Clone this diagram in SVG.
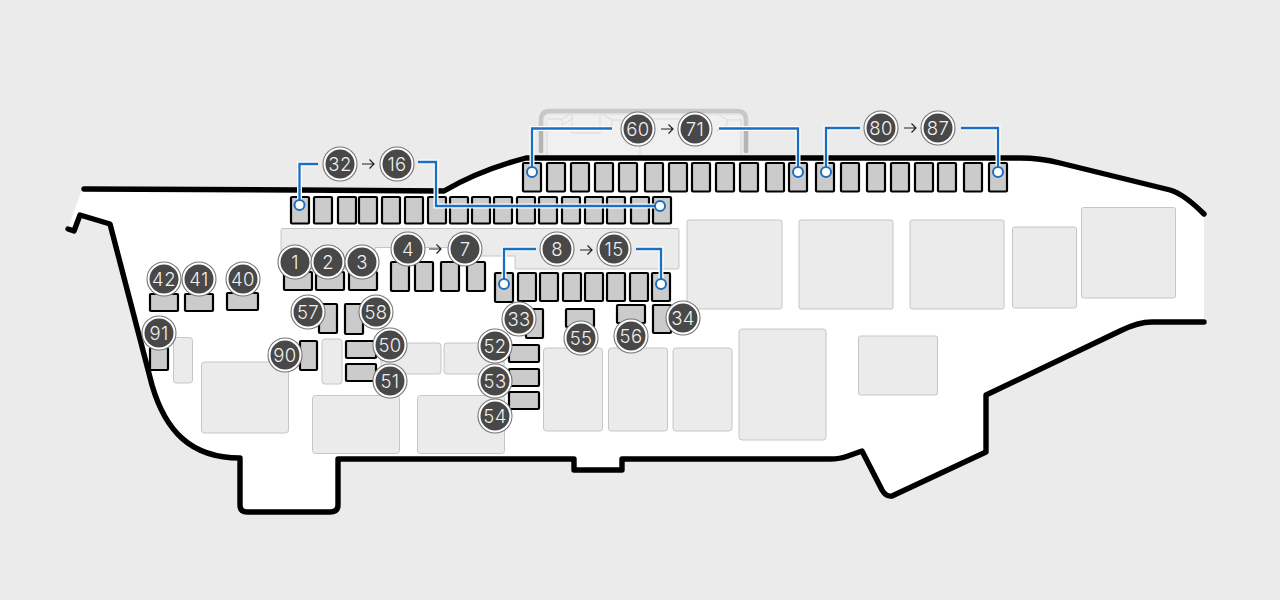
<svg xmlns="http://www.w3.org/2000/svg" width="1280" height="600" viewBox="0 0 1280 600">
<defs>
<style>
.bay{fill:#ebebeb;stroke:#c6c6c6;stroke-width:1}
.f{fill:#cbcbcb;stroke:#000;stroke-width:2.2}
.ln{fill:none;stroke:#1b6ec2;stroke-width:2.3}
.dot{fill:#fff;stroke:#1b6ec2;stroke-width:2}
.bd{fill:none;stroke:#000;stroke-width:5.4;stroke-linecap:round;stroke-linejoin:round}
.o{fill:#fff;stroke:#757575;stroke-width:1.1}
.i{fill:#484848}
.t{font-family:"Inter","Liberation Sans",sans-serif;font-weight:300;font-size:18.500px;letter-spacing:.4px;fill:#f2f2f2;text-anchor:middle;opacity:.99}
.ar{fill:none;stroke:#222;stroke-width:1.2}
.st{fill:none;stroke:#dadada;stroke-width:1}
</style>
<g id="b"><circle class="o" r="17"/><circle class="i" r="14.500"/></g>
</defs>
<rect width="1280" height="600" fill="#ebebeb"/>
<g id="hood">
<path d="M548 114H740V165H548Z" fill="#f0f0f0"/>
<path d="M541 130V120Q541 111 550 111H737Q746 111 746 120V130" fill="none" stroke="#c8c8c8" stroke-width="4.500"/>
<path d="M541 130V151M746 130V151" fill="none" stroke="#b4b4b4" stroke-width="4.500" stroke-linecap="round"/>
<path class="st" d="M548 114H740M548 119H562L572 113M562 119V125L572 119M572 113V133H600V113M600 113L612 120V125L600 131M612 120H622M547 125V165M640 145V165M650 119H690M717 113L727 120H741M727 120V125L717 131M741 120V165"/>
</g>
<path id="body" fill="#fff" d="M82 189L298 190L444 191Q480 170 524 158H1020Q1040 158 1060 163L1172 190Q1184 194 1204 214V322H1152Q1138 322 1120 331L986 395V452L892 496Q886 497 882 490L862 451L848 456Q840 459 830 459H622V470H574V459H338V505Q338 512 330 512H247Q240 512 240 505V458C190 458 165 430 152 385L110 224L80 215L74 231L68 229Z"/>
<g id="bays">
<path class="bay" d="M283 228.500H677Q679 228.500 679 230.500V267Q679 269 677 269H515V256H465V247.500H375V269H283Q281 269 281 267V230.500Q281 228.500 283 228.500Z"/>
<rect class="bay" x="687" y="220" width="95" height="89" rx="2"/>
<rect class="bay" x="799" y="220" width="94" height="89" rx="2"/>
<rect class="bay" x="910" y="220" width="94" height="89" rx="2"/>
<rect class="bay" x="1012.500" y="227" width="64" height="81" rx="2"/>
<rect class="bay" x="1081.500" y="207.500" width="94" height="90.500" rx="2"/>
<rect class="bay" x="858.500" y="336" width="79" height="59" rx="2"/>
<rect class="bay" x="739" y="329" width="87" height="111" rx="3"/>
<rect class="bay" x="673" y="348" width="59" height="83" rx="3"/>
<rect class="bay" x="608.500" y="348" width="59" height="83" rx="3"/>
<rect class="bay" x="543.500" y="348" width="59" height="83" rx="3"/>
<rect class="bay" x="417.500" y="395.500" width="87" height="58" rx="3"/>
<rect class="bay" x="312.500" y="395.500" width="87" height="58" rx="3"/>
<rect class="bay" x="201.500" y="362" width="87" height="71" rx="3"/>
<rect class="bay" x="173.500" y="337.500" width="19" height="45.500" rx="3"/>
<rect class="bay" x="322" y="339" width="20" height="45" rx="3"/>
<rect class="bay" x="381" y="343" width="60" height="31" rx="3"/>
<rect class="bay" x="444" y="343" width="60" height="31" rx="3"/>
</g>
<path id="outline" class="bd" d="M84 189L298 190L444 191Q480 170 526 158H1020Q1040 158 1060 163L1170 190Q1184 194 1204 214M1204 322H1152Q1138 322 1120 331L986 395V452L892 496Q886 497 882 490L862 451L848 456Q840 459 830 459H622V470H574V459H338V505Q338 512 330 512H247Q240 512 240 505V458C190 458 165 430 152 385L110 224L80 215L74 231L68 229"/>
<g id="fuses">
<rect class="f" x="523" y="163" width="18" height="28.500" rx="1"/><rect class="f" x="547" y="163" width="18" height="28.500" rx="1"/><rect class="f" x="571" y="163" width="18" height="28.500" rx="1"/><rect class="f" x="595" y="163" width="18" height="28.500" rx="1"/><rect class="f" x="619" y="163" width="18" height="28.500" rx="1"/><rect class="f" x="645" y="163" width="18" height="28.500" rx="1"/><rect class="f" x="669" y="163" width="18" height="28.500" rx="1"/><rect class="f" x="692" y="163" width="18" height="28.500" rx="1"/><rect class="f" x="716" y="163" width="18" height="28.500" rx="1"/><rect class="f" x="740" y="163" width="18" height="28.500" rx="1"/><rect class="f" x="766" y="163" width="18" height="28.500" rx="1"/><rect class="f" x="789" y="163" width="18" height="28.500" rx="1"/>
<rect class="f" x="816" y="163" width="18" height="28.500" rx="1"/><rect class="f" x="841" y="163" width="18" height="28.500" rx="1"/><rect class="f" x="867" y="163" width="18" height="28.500" rx="1"/><rect class="f" x="891" y="163" width="18" height="28.500" rx="1"/><rect class="f" x="915" y="163" width="18" height="28.500" rx="1"/><rect class="f" x="938" y="163" width="18" height="28.500" rx="1"/><rect class="f" x="964" y="163" width="18" height="28.500" rx="1"/><rect class="f" x="989" y="163" width="18" height="28.500" rx="1"/>
<rect class="f" x="291" y="197" width="18" height="26.500" rx="1"/><rect class="f" x="314" y="197" width="18" height="26.500" rx="1"/><rect class="f" x="338" y="197" width="18" height="26.500" rx="1"/><rect class="f" x="359" y="197" width="18" height="26.500" rx="1"/><rect class="f" x="382" y="197" width="18" height="26.500" rx="1"/><rect class="f" x="405" y="197" width="18" height="26.500" rx="1"/><rect class="f" x="428" y="197" width="18" height="26.500" rx="1"/><rect class="f" x="450" y="197" width="18" height="26.500" rx="1"/><rect class="f" x="472" y="197" width="18" height="26.500" rx="1"/><rect class="f" x="494" y="197" width="18" height="26.500" rx="1"/><rect class="f" x="517" y="197" width="18" height="26.500" rx="1"/><rect class="f" x="539" y="197" width="18" height="26.500" rx="1"/><rect class="f" x="562" y="197" width="18" height="26.500" rx="1"/><rect class="f" x="585" y="197" width="18" height="26.500" rx="1"/><rect class="f" x="607" y="197" width="18" height="26.500" rx="1"/><rect class="f" x="631" y="197" width="18" height="26.500" rx="1"/><rect class="f" x="653" y="197" width="18" height="26.500" rx="1"/>
<rect class="f" x="391" y="262" width="18" height="29" rx="1"/><rect class="f" x="415" y="262" width="18" height="29" rx="1"/><rect class="f" x="441" y="262" width="18" height="29" rx="1"/><rect class="f" x="467" y="262" width="18" height="29" rx="1"/>
<rect class="f" x="495" y="273" width="18" height="29" rx="1"/><rect class="f" x="518" y="273" width="18" height="28" rx="1"/><rect class="f" x="540" y="273" width="18" height="28" rx="1"/><rect class="f" x="563" y="273" width="18" height="28" rx="1"/><rect class="f" x="585" y="273" width="18" height="28" rx="1"/><rect class="f" x="607" y="273" width="18" height="28" rx="1"/><rect class="f" x="630" y="273" width="18" height="28" rx="1"/><rect class="f" x="652" y="273" width="18" height="28" rx="1"/>
<rect class="f" x="284" y="272" width="28" height="18" rx="1"/><rect class="f" x="316" y="272" width="28" height="18" rx="1"/><rect class="f" x="349" y="272" width="28" height="18" rx="1"/>
<rect class="f" x="150" y="294" width="28" height="17" rx="1"/><rect class="f" x="185" y="294" width="28" height="17" rx="1"/><rect class="f" x="227" y="293" width="31" height="17" rx="1"/>
<rect class="f" x="319" y="304" width="18" height="29" rx="1"/><rect class="f" x="345" y="304" width="18" height="30" rx="1"/>
<rect class="f" x="300" y="341" width="17" height="29" rx="1"/><rect class="f" x="150" y="348" width="18" height="22" rx="1"/>
<rect class="f" x="346" y="341" width="30" height="17" rx="1"/><rect class="f" x="346" y="364" width="30" height="17" rx="1"/>
<rect class="f" x="526" y="309" width="17" height="29" rx="1"/><rect class="f" x="566" y="309" width="28" height="18" rx="1"/><rect class="f" x="617" y="305" width="28" height="18" rx="1"/><rect class="f" x="653" y="305" width="18" height="28" rx="1"/>
<rect class="f" x="509" y="345" width="30" height="17" rx="1"/><rect class="f" x="509" y="369" width="30" height="17" rx="1"/><rect class="f" x="509" y="392" width="30" height="17" rx="1"/>
</g>
<g id="connectors">
<path d="M299.500 205V164H318M418 162H436V206H660M532 172V128.500H612M719 128.500H798V172M826 172V128H860M961 128H998V172M504 284V249H536M636 249H661V284" fill="none" stroke="#fff" stroke-width="5"/>
<path class="ln" d="M299.500 205V164H318M418 162H436V206H660"/>
<path class="ln" d="M532 172V128.500H612M719 128.500H798V172"/>
<path class="ln" d="M826 172V128H860M961 128H998V172"/>
<path class="ln" d="M504 284V249H536M636 249H661V284"/>
<circle class="dot" cx="299.500" cy="205" r="5"/><circle class="dot" cx="660" cy="206" r="5"/><circle class="dot" cx="532" cy="172" r="5"/><circle class="dot" cx="798" cy="172" r="5"/><circle class="dot" cx="826" cy="172" r="5"/><circle class="dot" cx="998" cy="172" r="5"/><circle class="dot" cx="504" cy="284" r="5"/><circle class="dot" cx="661" cy="284" r="5"/>
<path class="ar" d="M362 164H374M369.500 159.500L374 164L369.500 168.500M429 249H441M436.500 244.500L441 249L436.500 253.500M580 250H592M587.500 245.500L592 250L587.500 254.500M661 129H673M668.500 124.500L673 129L668.500 133.500M904 128H916M911.500 123.500L916 128L911.500 132.500"/>
</g>
<g id="n1" transform="translate(295 262)"><use href="#b"/><text class="t" y="6.500">1</text></g>
<g id="n2" transform="translate(328 262)"><use href="#b"/><text class="t" y="6.500">2</text></g>
<g id="n3" transform="translate(362 262)"><use href="#b"/><text class="t" y="6.500">3</text></g>
<g id="n4" transform="translate(408 249)"><use href="#b"/><text class="t" y="6.500">4</text></g>
<g id="n7" transform="translate(465 249)"><use href="#b"/><text class="t" y="6.500">7</text></g>
<g id="n8" transform="translate(557 249)"><use href="#b"/><text class="t" y="6.500">8</text></g>
<g id="n15" transform="translate(614 249)"><use href="#b"/><text class="t" y="6.500">15</text></g>
<g id="n16" transform="translate(397 164)"><use href="#b"/><text class="t" y="6.500">16</text></g>
<g id="n32" transform="translate(340 164)"><use href="#b"/><text class="t" y="6.500">32</text></g>
<g id="n33" transform="translate(519 319)"><use href="#b"/><text class="t" y="6.500">33</text></g>
<g id="n34" transform="translate(683 318)"><use href="#b"/><text class="t" y="6.500">34</text></g>
<g id="n40" transform="translate(243 279)"><use href="#b"/><text class="t" y="6.500">40</text></g>
<g id="n41" transform="translate(199 279)"><use href="#b"/><text class="t" y="6.500">41</text></g>
<g id="n42" transform="translate(164 279)"><use href="#b"/><text class="t" y="6.500">42</text></g>
<g id="n50" transform="translate(390 345)"><use href="#b"/><text class="t" y="6.500">50</text></g>
<g id="n51" transform="translate(390 381)"><use href="#b"/><text class="t" y="6.500">51</text></g>
<g id="n52" transform="translate(495 346)"><use href="#b"/><text class="t" y="6.500">52</text></g>
<g id="n53" transform="translate(495 381)"><use href="#b"/><text class="t" y="6.500">53</text></g>
<g id="n54" transform="translate(495 416)"><use href="#b"/><text class="t" y="6.500">54</text></g>
<g id="n55" transform="translate(581 338)"><use href="#b"/><text class="t" y="6.500">55</text></g>
<g id="n56" transform="translate(631 336)"><use href="#b"/><text class="t" y="6.500">56</text></g>
<g id="n57" transform="translate(308 312)"><use href="#b"/><text class="t" y="6.500">57</text></g>
<g id="n58" transform="translate(376 312)"><use href="#b"/><text class="t" y="6.500">58</text></g>
<g id="n60" transform="translate(638 129)"><use href="#b"/><text class="t" y="6.500">60</text></g>
<g id="n71" transform="translate(695 129)"><use href="#b"/><text class="t" y="6.500">71</text></g>
<g id="n80" transform="translate(881 128)"><use href="#b"/><text class="t" y="6.500">80</text></g>
<g id="n87" transform="translate(938 128)"><use href="#b"/><text class="t" y="6.500">87</text></g>
<g id="n90" transform="translate(285 355)"><use href="#b"/><text class="t" y="6.500">90</text></g>
<g id="n91" transform="translate(159 333)"><use href="#b"/><text class="t" y="6.500">91</text></g>
</svg>
